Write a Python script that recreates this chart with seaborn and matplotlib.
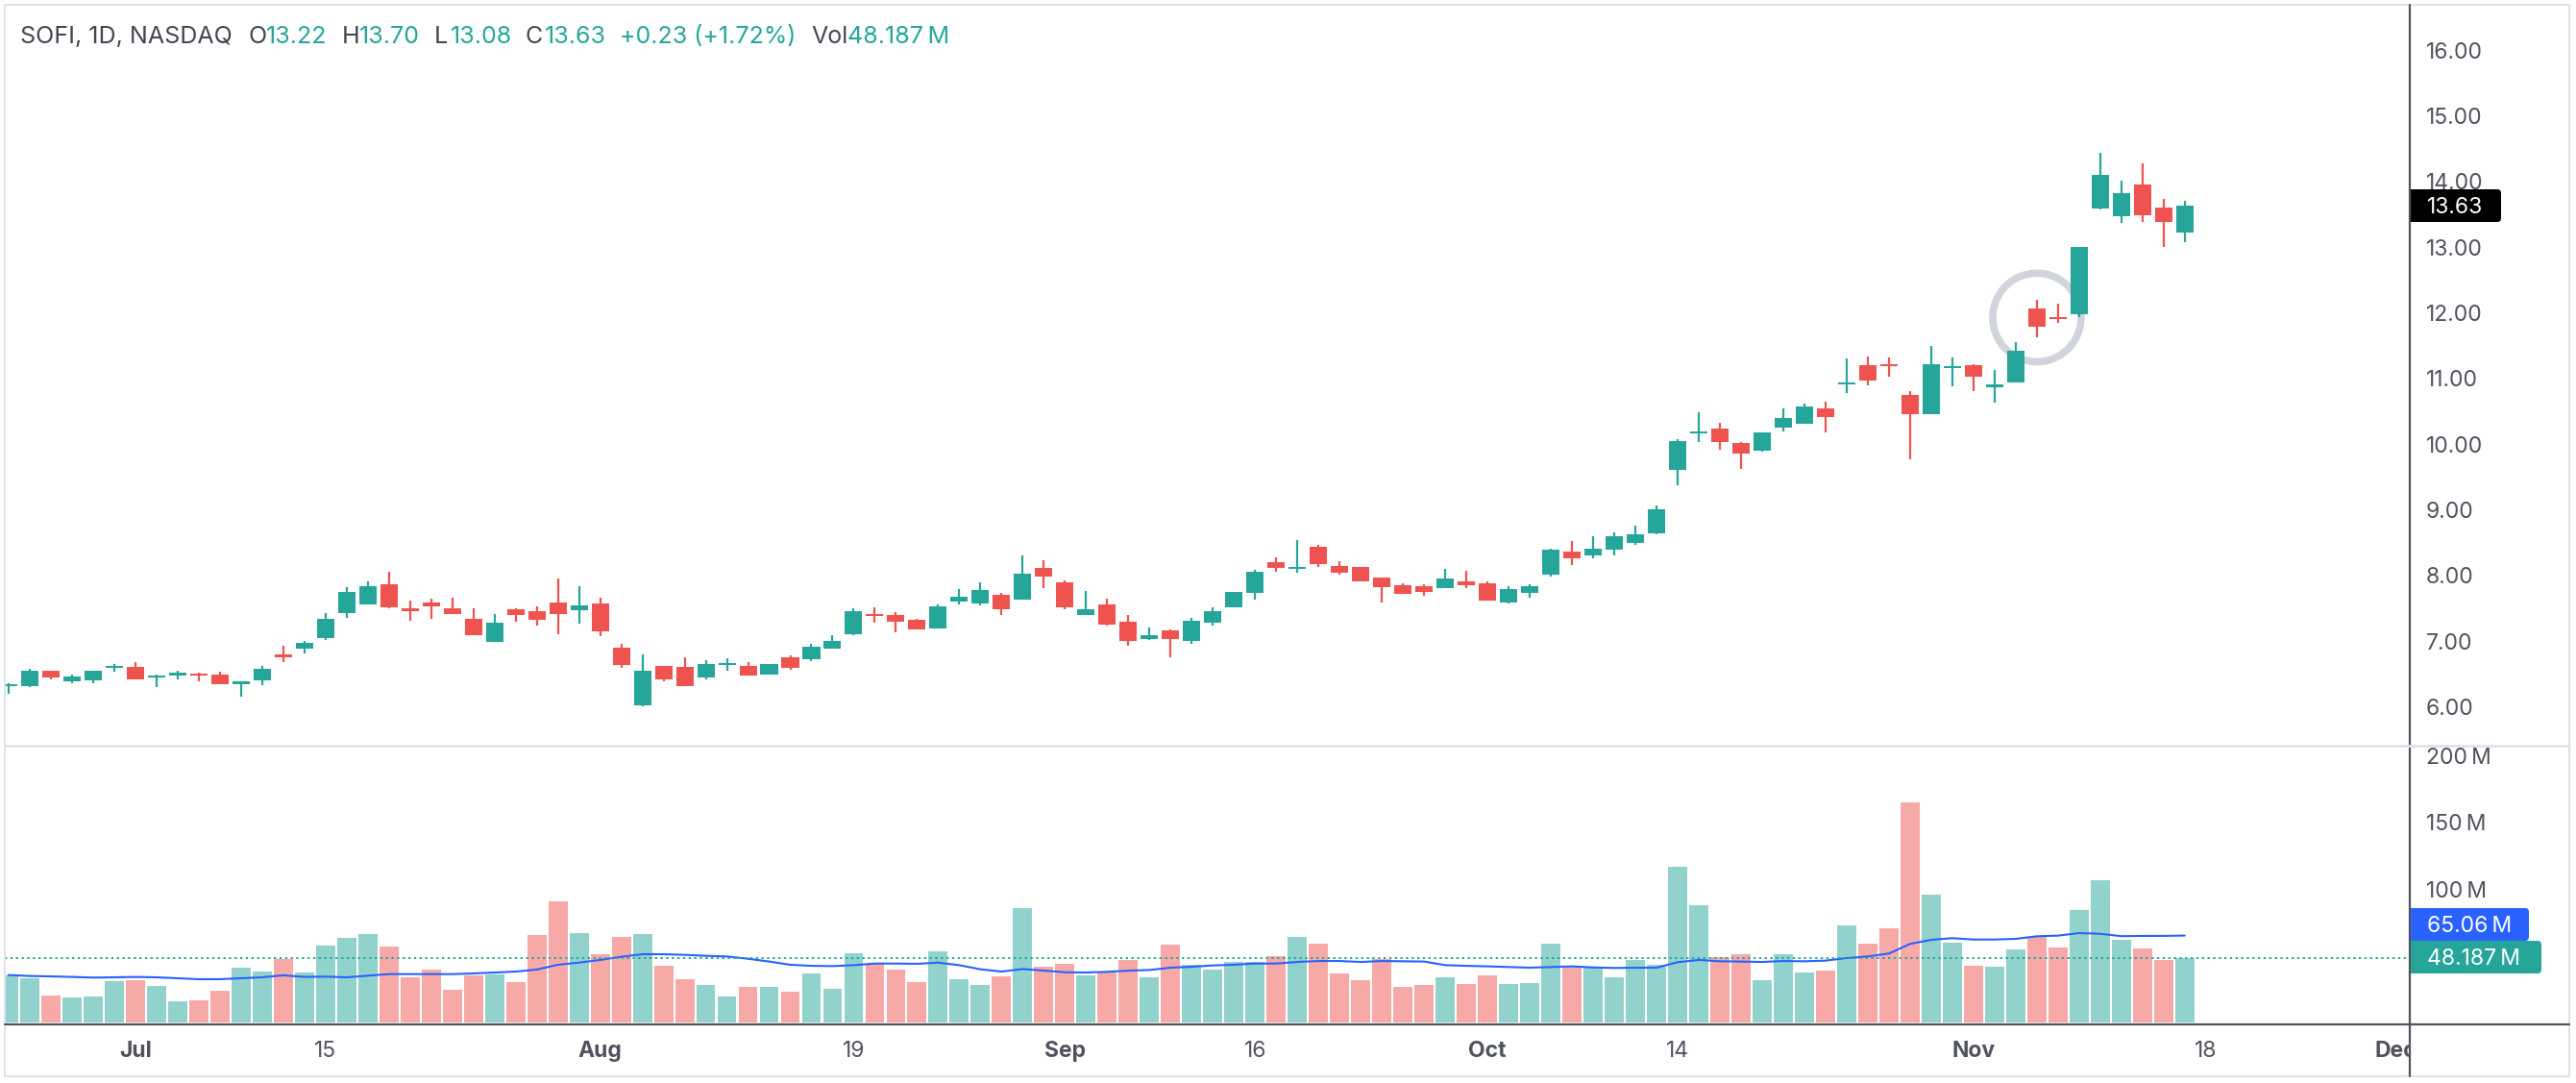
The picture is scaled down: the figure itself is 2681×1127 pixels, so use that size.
import pandas as pd
import seaborn as sns
import matplotlib.pyplot as plt
from matplotlib.patches import Ellipse, FancyBboxPatch
from matplotlib.transforms import Bbox

# price candles
open_prices = [6.32, 6.32, 6.55, 6.39, 6.40, 6.59, 6.61, 6.45, 6.48, 6.51, 6.49, 6.35, 6.40, 6.80, 6.89, 7.05, 7.43, 7.56, 7.87, 7.50,
               7.59, 7.50, 7.34, 6.99, 7.49, 7.46, 7.59, 7.47, 7.57, 6.90, 6.02, 6.62, 6.61, 6.45, 6.64, 6.62, 6.49, 6.76, 6.73, 6.89,
               7.11, 7.41, 7.40, 7.33, 7.20, 7.60, 7.58, 7.71, 7.63, 8.12, 7.90, 7.40, 7.56, 7.30, 7.03, 7.17, 7.00, 7.28, 7.52, 7.74,
               8.20, 8.10, 8.44, 8.15, 8.13, 7.97, 7.85, 7.84, 7.81, 7.91, 7.88, 7.59, 7.74, 8.01, 8.37, 8.31, 8.40, 8.50, 8.64, 9.61,
               10.17, 10.24, 10.02, 9.90, 10.25, 10.31, 10.55, 10.91, 11.20, 11.22, 10.75, 10.46, 11.16, 11.20, 10.87, 10.94, 12.07, 11.94, 11.98, 13.59,
               13.47, 13.96, 13.60, 13.22]
high_prices = [6.36, 6.58, 6.55, 6.49, 6.55, 6.65, 6.68, 6.49, 6.55, 6.52, 6.54, 6.39, 6.62, 6.93, 7.00, 7.43, 7.82, 7.91, 8.06, 7.62,
               7.65, 7.66, 7.50, 7.41, 7.50, 7.53, 7.95, 7.84, 7.66, 6.96, 6.80, 6.62, 6.75, 6.71, 6.74, 6.68, 6.65, 6.79, 6.96, 7.09,
               7.50, 7.52, 7.44, 7.34, 7.56, 7.79, 7.90, 7.74, 8.31, 8.23, 7.93, 7.77, 7.65, 7.40, 7.21, 7.18, 7.36, 7.52, 7.75, 8.09,
               8.28, 8.54, 8.47, 8.22, 8.13, 7.97, 7.88, 7.87, 8.10, 8.07, 7.91, 7.84, 7.87, 8.41, 8.53, 8.60, 8.66, 8.76, 9.07, 10.08,
               10.49, 10.33, 10.03, 10.18, 10.55, 10.62, 10.65, 11.31, 11.34, 11.32, 10.81, 11.50, 11.32, 11.22, 11.13, 11.56, 12.20, 12.14, 13.00, 14.44,
               14.01, 14.28, 13.74, 13.70]
low_prices = [6.20, 6.30, 6.42, 6.36, 6.36, 6.54, 6.42, 6.30, 6.42, 6.39, 6.35, 6.15, 6.33, 6.68, 6.81, 7.02, 7.35, 7.56, 7.50, 7.31,
              7.34, 7.41, 7.09, 6.99, 7.30, 7.24, 7.11, 7.27, 7.08, 6.59, 6.01, 6.39, 6.32, 6.42, 6.55, 6.48, 6.49, 6.57, 6.70, 6.89,
              7.09, 7.28, 7.14, 7.18, 7.20, 7.56, 7.55, 7.40, 7.63, 7.81, 7.49, 7.40, 7.24, 6.93, 7.02, 6.76, 6.96, 7.24, 7.52, 7.63,
              8.06, 8.04, 8.13, 8.01, 7.91, 7.59, 7.72, 7.69, 7.81, 7.81, 7.62, 7.58, 7.66, 7.99, 8.16, 8.26, 8.31, 8.47, 8.63, 9.38,
              10.03, 9.92, 9.62, 9.89, 10.20, 10.31, 10.18, 10.78, 10.90, 11.03, 9.77, 10.46, 10.88, 10.81, 10.63, 10.94, 11.63, 11.85, 11.94, 13.58,
              13.37, 13.39, 13.00, 13.08]
close_prices = [6.35, 6.55, 6.45, 6.46, 6.55, 6.62, 6.42, 6.48, 6.52, 6.48, 6.35, 6.39, 6.58, 6.75, 6.97, 7.34, 7.75, 7.84, 7.52, 7.46,
                7.53, 7.41, 7.09, 7.28, 7.40, 7.33, 7.41, 7.55, 7.15, 6.64, 6.55, 6.42, 6.32, 6.65, 6.67, 6.48, 6.65, 6.60, 6.92, 7.00,
                7.46, 7.38, 7.30, 7.18, 7.53, 7.68, 7.78, 7.49, 8.03, 7.98, 7.52, 7.49, 7.25, 7.00, 7.09, 7.03, 7.31, 7.46, 7.75, 8.06,
                8.12, 8.13, 8.18, 8.04, 7.91, 7.82, 7.72, 7.75, 7.96, 7.85, 7.62, 7.79, 7.84, 8.40, 8.26, 8.41, 8.60, 8.63, 9.01, 10.05,
                10.20, 10.03, 9.86, 10.18, 10.40, 10.58, 10.41, 10.94, 10.97, 11.19, 10.46, 11.22, 11.19, 11.03, 10.91, 11.43, 11.79, 11.91, 13.00, 14.10,
                13.82, 13.49, 13.39, 13.63]
# volume in millions and its moving average
volumes = [35.3, 33.1, 20.1, 18.7, 19.4, 30.9, 31.7, 27.3, 15.8, 16.5, 23.7, 41.0, 38.1, 47.5, 37.4, 57.6, 63.3, 66.2, 56.8, 33.8,
           39.6, 24.5, 35.3, 36.0, 30.2, 65.5, 90.6, 66.9, 51.1, 64.0, 66.2, 42.4, 32.4, 28.1, 19.4, 26.6, 26.6, 23.0, 36.7, 25.2,
           51.8, 43.9, 39.6, 30.2, 53.2, 32.4, 28.1, 34.5, 85.6, 41.7, 43.9, 35.3, 37.4, 46.8, 33.8, 58.3, 43.2, 39.6, 45.3, 45.3,
           49.6, 64.0, 59.0, 36.7, 31.7, 47.5, 26.6, 28.1, 33.8, 28.8, 35.3, 28.8, 29.5, 59.0, 41.7, 41.0, 33.8, 46.8, 43.2, 116.5,
           87.8, 48.9, 51.1, 31.7, 51.1, 37.4, 38.8, 72.7, 59.0, 70.5, 164.7, 95.7, 59.7, 42.4, 41.7, 54.7, 64.0, 56.1, 84.2, 106.5,
           61.9, 55.4, 46.8, 48.187]
volume_ma = [35.5, 34.8, 34.5, 34.1, 33.6, 33.8, 34.1, 33.8, 33.1, 32.4, 32.4, 33.1, 33.8, 35.3, 34.1, 34.3, 33.8, 35.0, 36.2, 36.2,
             36.2, 36.2, 36.7, 37.4, 38.1, 39.6, 43.2, 44.8, 46.8, 49.2, 51.1, 51.1, 50.6, 49.9, 49.4, 47.7, 45.6, 43.2, 42.4, 42.2,
             42.9, 44.1, 44.1, 43.9, 44.8, 42.9, 39.8, 38.1, 40.0, 38.8, 37.6, 37.4, 37.9, 38.8, 39.3, 41.0, 41.7, 42.7, 43.2, 44.1,
             44.1, 45.3, 46.0, 46.0, 45.3, 46.0, 45.8, 45.6, 42.9, 42.4, 42.0, 41.5, 41.0, 41.5, 42.0, 41.2, 40.8, 41.0, 41.0, 45.1,
             46.8, 45.8, 45.6, 45.3, 46.0, 45.8, 46.3, 48.2, 49.4, 51.6, 58.8, 61.9, 63.1, 62.1, 62.1, 62.6, 64.5, 65.0, 66.9, 66.4,
             64.6, 64.8, 64.8, 65.06]

date_ticks = [6, 15, 28, 40, 50, 59, 70, 79, 93, 104, 113]
date_labels = ['Jul', '15', 'Aug', '19', 'Sep', '16', 'Oct', '14', 'Nov', '18', 'Dec']
month_labels = ['Jul', 'Aug', 'Sep', 'Oct', 'Nov', 'Dec']
price_ticks = [6, 7, 8, 9, 10, 11, 12, 13, 14, 15, 16]
volume_ticks = [100, 150, 200]

header_parts = [(21, 'SOFI, 1D, NASDAQ', 'dark'), (258, 'O', 'dark'), (277, '13.22', 'green'),
                (356, 'H', 'dark'), (374, '13.70', 'green'), (452, 'L', 'dark'), (469, '13.08', 'green'),
                (547, 'C', 'dark'), (567, '13.63', 'green'), (645, '+0.23 (+1.72%)', 'green'),
                (844, 'Vol', 'dark'), (882, '48.187\u2009M', 'green')]

GREEN = '#26a69a'
RED = '#ef5350'
BLUE = '#2962ff'
TEXT = '#50535e'
BORDER = '#dfe2ea'
W, H = 2681, 1127

sns.set_style('white')
plt.rcParams['font.family'] = ['Inter', 'DejaVu Sans']

df = pd.DataFrame({'day': range(len(volumes)), 'open': open_prices, 'high': high_prices, 'low': low_prices,
                   'close': close_prices, 'volume': volumes, 'ma': volume_ma})
df['direction'] = ['up' if c >= o else 'down' for o, c in zip(df['open'], df['close'])]
df['color'] = df['direction'].map({'up': GREEN, 'down': RED})

fig = plt.figure(figsize=(W / 100, H / 100), dpi=100, facecolor='white')


def pixel_axes(left, top, right, bottom, **kwargs):
    return fig.add_axes([left / W, 1 - bottom / H, (right - left) / W, (bottom - top) / H], **kwargs)


ax = pixel_axes(5, 5, 2508, 776)
ax_vol = pixel_axes(5, 776, 2508, 1064)

# candles
ax.vlines(df['day'], df['low'], df['high'], colors=df['color'], linewidth=1.6, zorder=3)
ax.bar(df['day'], (df['close'] - df['open']).abs(), bottom=df[['open', 'close']].min(axis=1),
       width=0.82, color=df['color'], linewidth=0, zorder=4)
ax.add_patch(Ellipse((96, 11.93), 4.18, 1.35, fill=False, edgecolor='#d1d4dc', linewidth=5.5, zorder=2))
ax.set_xlim(-0.177, 113.65)
ax.set_ylim(5.409, 16.692)

# volume pane
sns.barplot(data=df, x='day', y='volume', hue='direction', hue_order=['up', 'down'],
            palette={'up': '#92d2cc', 'down': '#f7a9a7'}, native_scale=True, dodge=False,
            width=0.905, saturation=1, linewidth=0, legend=False, ax=ax_vol)
sns.lineplot(data=df, x='day', y='ma', color=BLUE, linewidth=1.5, ax=ax_vol, zorder=5)
ax_vol.axhline(volumes[-1], color=GREEN, linewidth=1.4, linestyle=(0, (1.2, 1.8)), zorder=6)
ax_vol.set_xlim(-0.177, 113.65)
ax_vol.set_ylim(0, 207.2)
ax_vol.set_xlabel('')
ax_vol.set_ylabel('')

for a in [ax, ax_vol]:
    sns.despine(ax=a, left=True, bottom=True, right=True, top=True)
    a.yaxis.tick_right()
    a.patch.set_alpha(0)

ax.set_xticks([])
ax.set_yticks(price_ticks)
ax.set_yticklabels(['%.2f' % p for p in price_ticks])
ax.tick_params(axis='y', length=0, pad=12, labelsize=16.5, labelcolor=TEXT)

ax_vol.set_yticks(volume_ticks)
ax_vol.set_yticklabels(['%d\u2009M' % v for v in volume_ticks])
ax_vol.tick_params(axis='y', length=0, pad=12, labelsize=16.5, labelcolor=TEXT)
ax_vol.set_xticks(date_ticks)
ax_vol.set_xticklabels(date_labels)
ax_vol.tick_params(axis='x', length=0, pad=14, labelsize=16.5, labelcolor=TEXT)
for lab in ax_vol.get_xticklabels():
    if lab.get_text() in month_labels:
        lab.set_fontweight('bold')
    # Dec is cut by the price axis
    lab.set_clip_on(True)
    lab.set_clip_box(Bbox.from_extents(0, 0, 2507, H))

# frame, header and price badges go on a pixel overlay
over = pixel_axes(0, 0, W, H, zorder=10)
over.set_xlim(0, W)
over.set_ylim(H, 0)
over.axis('off')
over.patch.set_alpha(0)

over.plot([5, 5, 2674, 2674, 5], [5, 1120, 1120, 5, 5], color=BORDER, linewidth=1.4)
over.plot([5, 2674], [776, 776], color=BORDER, linewidth=2, zorder=9)
over.plot([5, 2674], [1066, 1066], color=TEXT, linewidth=1.6)


def badge(y_mid, right, color, label):
    # square on the axis side, rounded on the outer side
    box = FancyBboxPatch((2500, y_mid - 17), right - 2500, 34, boxstyle='round,pad=0,rounding_size=4',
                         facecolor=color, edgecolor='none', zorder=6)
    over.add_patch(box)
    box.set_clip_box(Bbox.from_extents(2508, 0, W, H))
    over.text(2525.5, y_mid, label, color='white', fontsize=16.5, va='center_baseline', ha='left', zorder=7)


badge(214, 2603, 'black', '%.2f' % close_prices[-1])
badge(962, 2632, BLUE, '%.2f\u2009M' % volume_ma[-1])
badge(996, 2645, GREEN, '48.187\u2009M')
over.plot([2508, 2508], [5, 776], color=TEXT, linewidth=1.6, zorder=8)
over.plot([2508, 2508], [778, 1120], color=TEXT, linewidth=1.6, zorder=8)

for x, part, kind in header_parts:
    over.text(x, 36, part, color=GREEN if kind == 'green' else '#434651', fontsize=18,
              va='center_baseline', ha='left')

fig.savefig('out.png', dpi=100)
